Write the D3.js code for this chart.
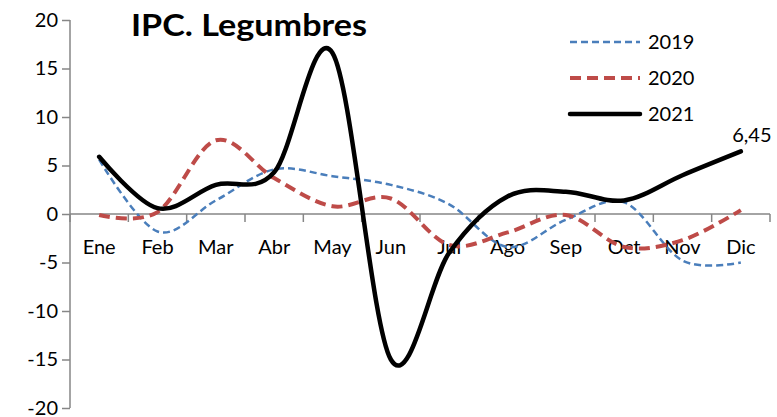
<!DOCTYPE html>
<meta charset="utf-8">
<style>
body { margin: 0; background: #fff; }
text { font-family: Lato, "Open Sans", sans-serif; fill: #000; }
.axis path, .axis line { stroke: #868686; stroke-width: 1.5px; }
</style>
<body>
<script src="https://cdn.jsdelivr.net/npm/d3@7/dist/d3.min.js"></script>
<script>
var width = 777,
    height = 417;

// datos
var meses = ["Ene", "Feb", "Mar", "Abr", "May", "Jun", "Jul", "Ago", "Sep", "Oct", "Nov", "Dic"];
var ipc2019 = [5.6, -1.8, 1.4, 4.6, 3.9, 3.0, 1.0, -3.4, -0.6, 1.2, -4.8, -5.0];
var ipc2020 = [-0.1, 0.2, 7.6, 3.7, 0.8, 1.6, -3.2, -1.9, -0.1, -3.4, -2.7, 0.4];
var ipc2021 = [5.9, 0.6, 3.0, 4.3, 16.6, -15.0, -4.0, 1.8, 2.3, 1.4, 4.0, 6.45];
var yTicks = [-20, -15, -10, -5, 0, 5, 10, 15, 20];

var series = [
  {name: "2019", values: ipc2019, color: "#4a7ebb", width: 2.5, dash: "7,4"},
  {name: "2020", values: ipc2020, color: "#be4b48", width: 4, dash: "11,6"},
  {name: "2021", values: ipc2021, color: "#000", width: 4.5, dash: null}
];

var svg = d3.select("body").append("svg")
    .attr("width", width)
    .attr("height", height);

var x = d3.scaleBand()
    .domain(meses)
    .range([70, 770]);

var y = d3.scaleLinear()
    .domain([-20, 20])
    .range([408, 20]);

// eje y (guion normal, no signo menos)
var yAxis = svg.append("g")
    .attr("class", "axis")
    .attr("transform", "translate(70,0)")
    .call(d3.axisLeft(y).tickValues(yTicks).tickSize(8).tickSizeOuter(0)
      .tickFormat(function(d) { return String(d); }));
yAxis.selectAll("text")
    .attr("x", -12)
    .style("font-size", "20px");
yAxis.select(".domain").attr("d", "M0," + y(20) + "V" + y(-20));

// eje x en el cero
var xAxis = svg.append("g")
    .attr("class", "axis")
    .attr("transform", "translate(0," + y(0) + ")")
    .call(d3.axisBottom(x).tickSize(0));
xAxis.selectAll("text")
    .attr("y", 26)
    .style("font-size", "20px");
xAxis.select(".domain").attr("d", "M70,0H770");
xAxis.selectAll(".sep")
    .data(d3.range(13))
    .enter().append("line")
    .attr("class", "sep")
    .attr("x1", function(i) { return 70 + i * x.step(); })
    .attr("x2", function(i) { return 70 + i * x.step(); })
    .attr("y1", 0)
    .attr("y2", 8);

var line = d3.line()
    .x(function(d, i) { return x(meses[i]) + x.bandwidth() / 2; })
    .y(function(d) { return y(d); })
    .curve(d3.curveCatmullRom.alpha(0));

svg.selectAll(".serie")
    .data(series)
    .enter().append("path")
    .attr("class", "serie")
    .attr("d", function(s) { return line(s.values); })
    .attr("fill", "none")
    .attr("stroke", function(s) { return s.color; })
    .attr("stroke-width", function(s) { return s.width; })
    .attr("stroke-dasharray", function(s) { return s.dash; })
    .attr("stroke-linecap", function(s) { return s.dash ? "butt" : "round"; });

// etiqueta del ultimo valor
svg.append("text")
    .attr("x", x("Dic") + x.bandwidth() / 2 + 11)
    .attr("y", y(6.45) - 9)
    .attr("text-anchor", "middle")
    .style("font-size", "20px")
    .text(d3.format(".2f")(6.45).replace(".", ","));

// titulo
svg.append("text")
    .attr("x", 131)
    .attr("y", 36)
    .attr("textLength", 236)
    .attr("lengthAdjust", "spacingAndGlyphs")
    .style("font-size", "30px")
    .style("font-weight", "bold")
    .text("IPC. Legumbres");

// leyenda
var leg = svg.selectAll(".leg")
    .data(series)
    .enter().append("g")
    .attr("class", "leg")
    .attr("transform", function(s, i) { return "translate(570," + (42 + i * 36) + ")"; });
leg.append("line")
    .attr("x1", 0).attr("x2", 70)
    .attr("stroke", function(s) { return s.color; })
    .attr("stroke-width", function(s) { return s.width; })
    .attr("stroke-dasharray", function(s) { return s.dash; })
    .attr("stroke-linecap", function(s) { return s.dash ? "butt" : "round"; });
leg.append("text")
    .attr("x", 78)
    .attr("dy", "0.35em")
    .style("font-size", "20px")
    .text(function(s) { return s.name; });
</script>
